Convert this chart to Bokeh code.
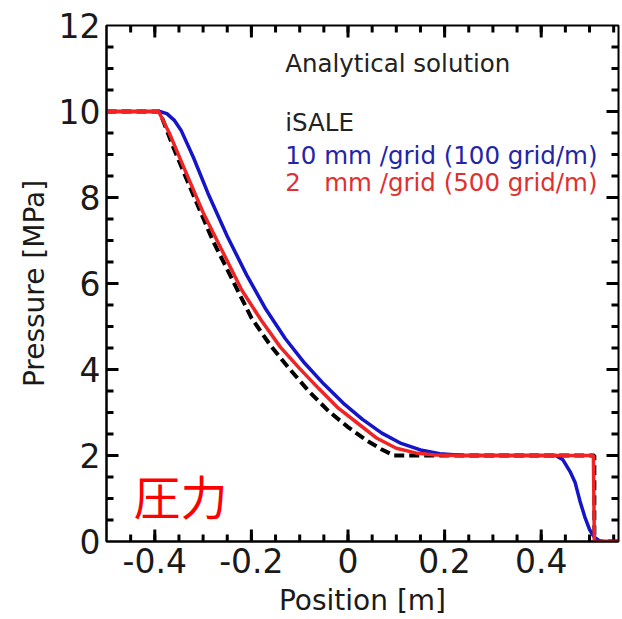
from bokeh.plotting import figure
from bokeh.models import Label, LinearAxis, SingleIntervalTicker, Range1d, CustomJSTickFormatter
from bokeh.embed import file_html
from bokeh.resources import INLINE

# ---- data ----
x_analytic = [-0.5, -0.39, -0.36, -0.32, -0.28, -0.24, -0.20, -0.16, -0.12, -0.08, -0.04, 0.0, 0.04, 0.07, 0.095, 0.51, 0.51, 0.56]
y_analytic = [10, 10, 9.12, 8.05, 7.0, 6.1, 5.2, 4.55, 4.0, 3.48, 3.03, 2.66, 2.34, 2.14, 2.0, 2.0, 0, 0]

x_10mm = [-0.5, -0.39, -0.375, -0.36, -0.345, -0.32, -0.29, -0.25, -0.21, -0.17, -0.13, -0.09, -0.05, -0.01, 0.03, 0.07, 0.11, 0.15, 0.19, 0.24,
          0.43, 0.445, 0.46, 0.47, 0.48, 0.49, 0.50, 0.51, 0.522, 0.56]
y_10mm = [10, 10, 9.95, 9.8, 9.55, 8.93, 8.1, 7.1, 6.2, 5.4, 4.72, 4.15, 3.66, 3.22, 2.84, 2.52, 2.28, 2.13, 2.04, 2.0,
          2.0, 1.9, 1.62, 1.38, 0.95, 0.58, 0.28, 0.1, 0.0, 0.0]

x_2mm = [-0.5, -0.392, -0.37, -0.34, -0.30, -0.26, -0.22, -0.18, -0.14, -0.10, -0.06, -0.02, 0.02, 0.06, 0.10, 0.14, 0.18, 0.23, 0.508, 0.51, 0.56]
y_2mm = [10, 10, 9.5, 8.7, 7.65, 6.75, 5.85, 5.15, 4.52, 4.02, 3.55, 3.1, 2.75, 2.4, 2.17, 2.06, 2.01, 2.0, 2.0, 0, 0]

legend_title = "Analytical solution"
legend_group = "iSALE"
label_10mm = "10 mm /grid (100 grid/m)"
label_2mm = "2\u00a0\u00a0 mm /grid (500 grid/m)"
corner_text = "圧力"

x_start, x_end = -0.5, 0.56
y_start, y_end = 0.0, 12.0
x_major_step, x_minor_step = 0.2, 0.05
y_major_step, y_minor_step = 2.0, 0.5

FONT = "DejaVu Sans"
FRAME_W, FRAME_H = 512, 517

p = figure(width=622, height=619, output_backend="svg", toolbar_location=None,
           x_range=Range1d(x_start, x_end), y_range=Range1d(y_start, y_end),
           min_border_left=106, min_border_right=4, min_border_top=25, min_border_bottom=77,
           x_axis_location=None, y_axis_location=None)
p.xgrid.visible = False
p.ygrid.visible = False
p.outline_line_color = "black"
p.outline_line_width = 2
p.background_fill_color = "white"
p.border_fill_color = "white"


def style_axis(ax, label_standoff):
    ax.axis_line_width = 2
    ax.axis_line_color = "black"
    ax.major_tick_in = 0
    ax.major_tick_out = 0
    ax.minor_tick_in = 0
    ax.minor_tick_out = 0
    ax.major_label_text_font = FONT
    ax.major_label_text_color = "#1a1a1a"
    ax.major_label_text_font_size = "33px"
    ax.major_label_standoff = 6
    ax.axis_label_text_font = FONT
    ax.axis_label_text_font_size = "28px"
    ax.axis_label_text_font_style = "normal"
    ax.axis_label_text_color = "#1a1a1a"
    ax.axis_label_standoff = label_standoff


fmt = CustomJSTickFormatter(code="return Math.abs(tick) < 1e-9 ? '0' : tick.toFixed(1);")
xb = LinearAxis(ticker=SingleIntervalTicker(interval=x_major_step), axis_label="Position [m]", formatter=fmt)
style_axis(xb, 8)
p.add_layout(xb, "below")

yl = LinearAxis(ticker=SingleIntervalTicker(interval=y_major_step), axis_label="Pressure [MPa]")
style_axis(yl, 5)
p.add_layout(yl, "left")

# inward tick marks on all four sides, drawn as separate short lines
dx_px = (x_end - x_start) / FRAME_W
dy_px = (y_end - y_start) / FRAME_H
xs_major = [round(-0.4 + i * x_major_step, 6) for i in range(5)]
xs_minor = [round(-0.45 + i * x_minor_step, 6) for i in range(21)]
ys_major = [2.0 + i * y_major_step for i in range(5)]
ys_minor = [0.5 + i * y_minor_step for i in range(23)]

tick_style = dict(line_color="black", line_width=3)
for xs, ln in [(xs_minor, 7), (xs_major, 12)]:
    for xv in xs:
        p.line([xv, xv], [y_start, y_start + ln * dy_px], **tick_style)
        p.line([xv, xv], [y_end, y_end - ln * dy_px], **tick_style)
for ys, ln in [(ys_minor, 7), (ys_major, 12)]:
    for yv in ys:
        p.line([x_start, x_start + ln * dx_px], [yv, yv], **tick_style)
        p.line([x_end, x_end - ln * dx_px], [yv, yv], **tick_style)

p.line(x_analytic, y_analytic, line_color="black", line_width=4, line_dash="10 5")
p.line(x_10mm, y_10mm, line_color="#1414c8", line_width=3.5)
p.line(x_2mm, y_2mm, line_color="#f02424", line_width=3.5)

for txt, yy, col in [(legend_title, 11.11, "#222222"), (legend_group, 9.75, "#222222"),
                     (label_10mm, 8.98, "#2424a8"), (label_2mm, 8.36, "#e03030")]:
    p.add_layout(Label(x=-0.13, y=yy, text=txt, text_font=FONT, text_font_size="24.5px",
                       text_color=col, text_baseline="alphabetic", text_align="left"))

p.add_layout(Label(x=-0.444, y=1.09, text=corner_text, text_font="Noto Sans CJK JP",
                   text_font_size="47px", text_color="#ff0000", text_baseline="middle"))

open("out.html", "w").write(file_html(p, INLINE))
